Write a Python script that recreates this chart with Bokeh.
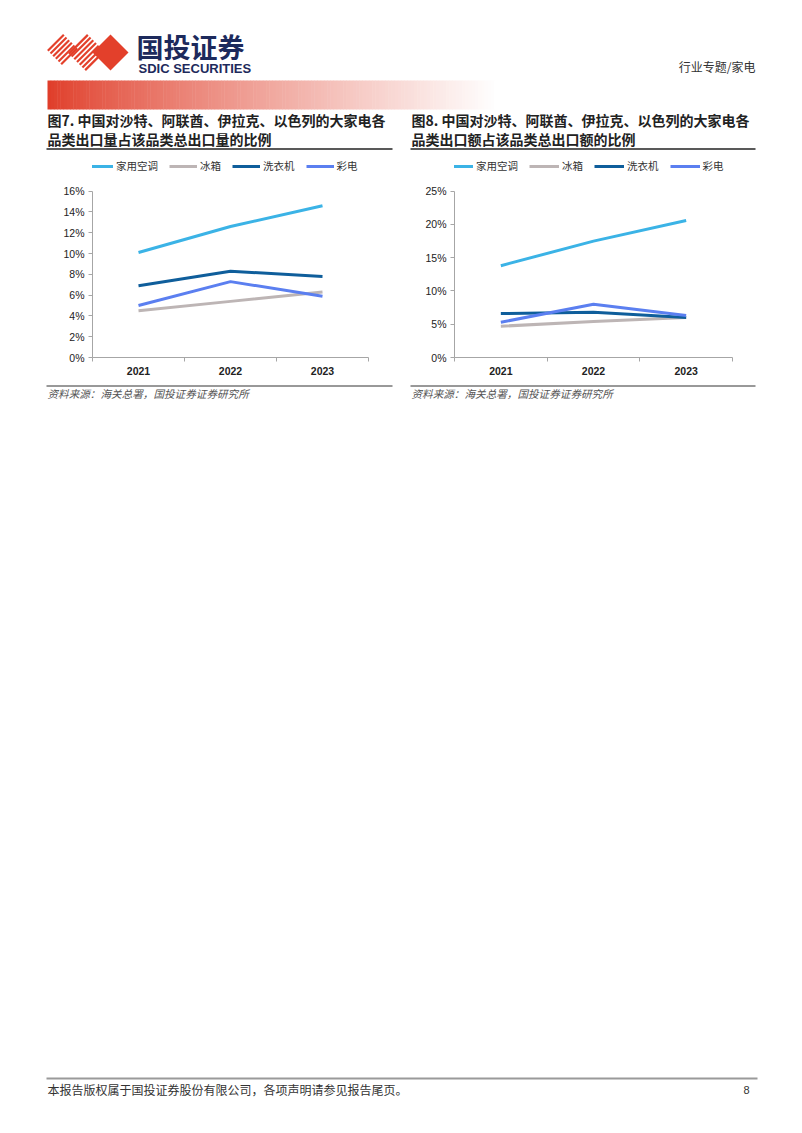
from bokeh.plotting import figure
from bokeh.models import (Range1d, FixedTicker, PrintfTickFormatter, Legend, LegendItem)
from bokeh.layouts import column, row
from bokeh.embed import file_html
from bokeh.resources import INLINE
from bokeh.core.properties import value

# ---------------- data ----------------
years = ["2021", "2022", "2023"]
series_names = ["家用空调", "冰箱", "洗衣机", "彩电"]
series_colors = ["#3bb3e6", "#bdb5b5", "#0f5e9b", "#5b7ff0"]

# 图7: 出口量占比 (%)
vol_ac = [10.1, 12.6, 14.6]
vol_fridge = [4.5, 5.4, 6.3]
vol_washer = [6.9, 8.3, 7.8]
vol_tv = [5.0, 7.3, 5.9]
vol_ticks = [0, 2, 4, 6, 8, 10, 12, 14, 16]

# 图8: 出口额占比 (%)
val_ac = [13.8, 17.5, 20.6]
val_fridge = [4.7, 5.4, 6.0]
val_washer = [6.6, 6.8, 6.0]
val_tv = [5.3, 8.0, 6.3]
val_ticks = [0, 5, 10, 15, 20, 25]

title7 = ["图7. 中国对沙特、阿联酋、伊拉克、以色列的大家电各", "品类出口量占该品类总出口量的比例"]
title8 = ["图8. 中国对沙特、阿联酋、伊拉克、以色列的大家电各", "品类出口额占该品类总出口额的比例"]
source_text = "资料来源：海关总署，国投证券证券研究所"
footer_text = "本报告版权属于国投证券股份有限公司，各项声明请参见报告尾页。"
page_no = "8"
header_right = "行业专题/家电"

CJK = value("Noto Sans CJK SC")
LAT = "Liberation Sans"


def blank(fig):
    fig.xaxis.visible = False
    fig.yaxis.visible = False
    fig.xgrid.visible = False
    fig.ygrid.visible = False
    fig.outline_line_color = None
    fig.background_fill_color = None
    fig.border_fill_color = None


# ---------------- header ----------------
H_TOP = 155
hdr = figure(width=802, height=H_TOP, x_range=Range1d(0, 802), y_range=Range1d(H_TOP, 0),
             min_border=0, output_backend="svg", toolbar_location=None)
blank(hdr)

# logo stripes (two striped diamonds) + solid diamond
red = "#e3402b"
xs0, ys0, xs1, ys1 = [], [], [], []
for (cx, cy, r, n) in [(62, 49, 16, 6), (86, 52, 19, 7)]:
    for k in range(n):
        d = -r + (k + 0.5) * (2 * r / n)
        xs0.append(cx + (d - r) / 2); ys0.append(cy + (d + r) / 2)
        xs1.append(cx + (d + r) / 2); ys1.append(cy + (d - r) / 2)
hdr.segment(xs0, ys0, xs1, ys1, line_color=red, line_width=2.2)
hdr.patch([110, 128, 110, 92], [34, 52, 70, 52], fill_color=red, line_color=None)

hdr.text([136], [46], text=["国投证券"], text_font=CJK, text_font_size="27px",
         text_font_style="bold", text_color="#1d2a5c", text_baseline="middle")
hdr.text([138], [68], text=["SDIC SECURITIES"], text_font=value(LAT), text_font_size="13px",
         text_font_style="bold", text_color="#1d2a5c", text_baseline="middle")

# gradient bar
n = 140
x_start, x_end = 47.0, 497.0
w = (x_end - x_start) / n
lefts, rights, cols = [], [], []
for i in range(n):
    t = i / (n - 1)
    f = min(1.0, t ** 0.85)
    r_ = int(224 + (255 - 224) * f)
    g_ = int(62 + (255 - 62) * f)
    b_ = int(42 + (255 - 42) * f)
    lefts.append(x_start + i * w)
    rights.append(x_start + (i + 1) * w + 0.5)
    cols.append("#%02x%02x%02x" % (r_, g_, b_))
hdr.quad(left=lefts, right=rights, top=[80] * n, bottom=[109] * n, fill_color=cols, line_color=None)

hdr.text([755], [66], text=[header_right], text_font=CJK, text_font_size="12px",
         text_color="#333333", text_align="right", text_baseline="middle")

for x0, ttl, x1 in [(47, title7, 392), (411, title8, 755)]:
    hdr.text([x0, x0], [119, 138.5], text=ttl, text_font=CJK, text_font_size="14px",
             text_font_style="bold", text_color="#222222", text_baseline="middle")
    hdr.segment([x0 - 1], [148.5], [x1], [148.5], line_color="#222222", line_width=1.3)


# ---------------- charts ----------------
CH_H = 228
TOP_B = 3          # frame starts right at the legend row
BOT_B = 26
FRAME_H = CH_H - TOP_B - BOT_B
AXIS_H = 166.3     # pixel height of the 0..max part of the axis


def make_chart(width, bl, br, ymax, ticks, data, glyph_w, leg_x):
    y_top = ymax * FRAME_H / AXIS_H
    p = figure(width=width, height=CH_H, x_range=Range1d(0, len(years)), y_range=Range1d(0, y_top),
               min_border_left=bl, min_border_right=br, min_border_top=TOP_B, min_border_bottom=BOT_B,
               output_backend="svg", toolbar_location=None)
    p.xgrid.visible = False
    p.ygrid.visible = False
    p.outline_line_color = None
    xs = [i + 0.5 for i in range(len(years))]
    items = []
    for name, col, vals in zip(series_names, series_colors, data):
        rnd = p.line(xs, vals, line_color=col, line_width=3)
        items.append(LegendItem(label=name, renderers=[rnd]))

    ax = p.xaxis[0]
    ax.ticker = FixedTicker(ticks=xs, minor_ticks=list(range(len(years) + 1)))
    ax.major_label_overrides = {x: y for x, y in zip(xs, years)}
    ax.major_tick_out = 0
    ax.major_tick_in = 0
    ax.minor_tick_out = 4
    ax.minor_tick_in = 0
    ax.major_label_standoff = 5
    ax.major_label_text_font = LAT
    ax.major_label_text_font_size = "10.5px"
    ax.major_label_text_font_style = "bold"
    ax.major_label_text_color = "#222222"
    ax.axis_line_color = "#a6a6a6"
    ax.minor_tick_line_color = "#a6a6a6"

    ay = p.yaxis[0]
    ay.bounds = (0, ymax)
    ay.ticker = FixedTicker(ticks=ticks, minor_ticks=[])
    ay.formatter = PrintfTickFormatter(format="%d%%")
    ay.major_tick_out = 4
    ay.major_tick_in = 0
    ay.minor_tick_out = 0
    ay.minor_tick_in = 0
    ay.major_label_standoff = 4
    ay.major_label_text_font = LAT
    ay.major_label_text_font_size = "10.5px"
    ay.major_label_text_color = "#222222"
    ay.axis_line_color = "#a6a6a6"
    ay.major_tick_line_color = "#a6a6a6"

    leg = Legend(items=items, orientation="horizontal", location=(leg_x, FRAME_H - 15),
                 padding=0, margin=0, spacing=11, label_standoff=3,
                 glyph_width=glyph_w, glyph_height=14, label_height=14,
                 label_text_font="Noto Sans CJK SC", label_text_font_size="10.5px",
                 label_text_color="#333333", border_line_color=None,
                 background_fill_alpha=0)
    p.add_layout(leg, "center")
    return p


c1 = make_chart(401, 92, 33, 16, vol_ticks, [vol_ac, vol_fridge, vol_washer, vol_tv], 28, -7)
c2 = make_chart(401, 53, 70, 25, val_ticks, [val_ac, val_fridge, val_washer, val_tv], 30, -11)

# ---------------- bottom ----------------
B_TOP = H_TOP + CH_H
bot = figure(width=802, height=1133 - B_TOP, x_range=Range1d(0, 802), y_range=Range1d(1133, B_TOP),
             min_border=0, output_backend="svg", toolbar_location=None)
blank(bot)
for x0, x1 in [(46, 392), (410, 755)]:
    bot.segment([x0], [385.5], [x1], [385.5], line_color="#333333", line_width=1)
    bot.text([x0 + 1], [393], text=[source_text], text_font=CJK, text_font_size="10.6px",
             text_font_style="italic", text_color="#555555", text_baseline="middle")

bot.segment([46], [1078], [757], [1078], line_color="#9a9a9a", line_width=2)
bot.text([47], [1089], text=[footer_text], text_font=CJK, text_font_size="12px",
         text_color="#333333", text_baseline="middle")
bot.text([743], [1089], text=[page_no], text_font=value(LAT), text_font_size="11px",
         text_color="#333333", text_baseline="middle")

layout = column(hdr, row(c1, c2, spacing=0), bot, spacing=0)
open("out.html", "w").write(file_html(layout, INLINE))
